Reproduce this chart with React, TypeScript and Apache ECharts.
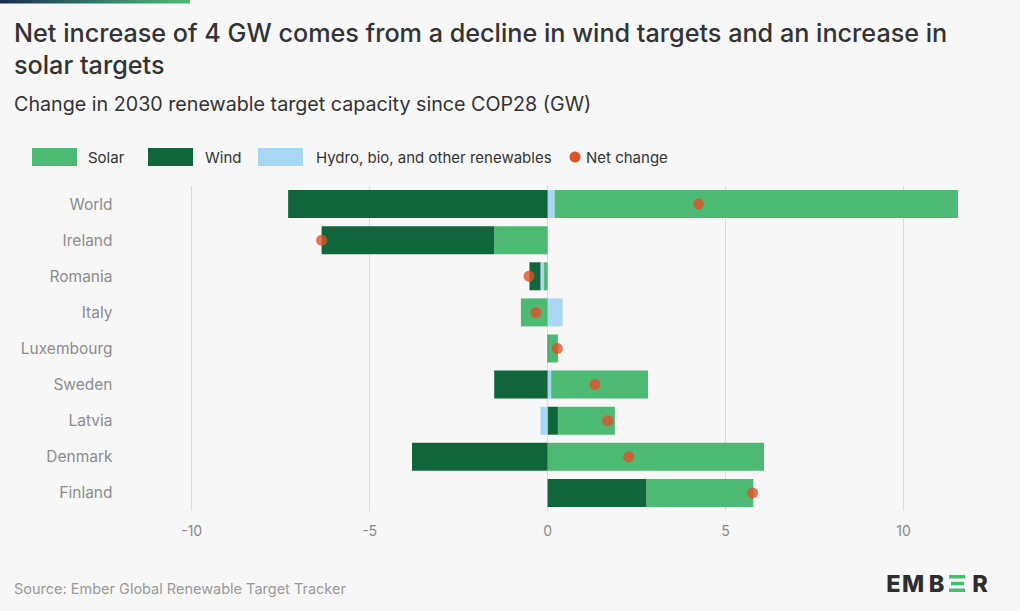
import React, { useEffect, useRef } from "react";
import * as echarts from "echarts";

const categories = ["World", "Ireland", "Romania", "Italy", "Luxembourg", "Sweden", "Latvia", "Denmark", "Finland"];
const solar = [11.33, -1.5, -0.1, -0.75, 0.26, 2.72, 1.6, 6.08, 3.0];
const wind = [-7.29, -4.85, -0.31, 0, 0.03, -1.5, 0.29, -3.81, 2.78];
const other = [0.2, 0, -0.1, 0.42, 0, 0.1, -0.2, 0, 0];
const netChange = [4.24, -6.35, -0.52, -0.33, 0.27, 1.33, 1.69, 2.28, 5.76];
const xTicks = [-10, -5, 0, 5, 10];

const C_SOLAR = "#4cba72";
const C_WIND = "#10663a";
const C_OTHER = "#a9d7f3";
const C_NET = "#e0512a";
const FONT = "Inter, 'Noto Sans', sans-serif";

const pos = (arr: number[]) => arr.map((v) => (v > 0 ? v : "-"));
const neg = (arr: number[]) => arr.map((v) => (v < 0 ? v : "-"));

export default function App() {
  const ref = useRef<HTMLDivElement>(null);
  useEffect(() => {
    document.body.style.margin = "0";
    document.body.style.overflow = "hidden";
    const chart = echarts.init(ref.current!, null, { renderer: "svg" });
    const barBase = { type: "bar", stack: "total", barWidth: 28, silent: true };
    const legendY = 157;
    const legendRect = (x: number, color: string) => ({
      type: "rect",
      shape: { x, y: legendY - 9, width: 45, height: 18 },
      style: { fill: color },
    });
    const legendText = (x: number, text: string) => ({
      type: "text",
      x,
      y: legendY,
      style: { text, font: `15px ${FONT}`, fill: "#333", verticalAlign: "middle" },
    });
    const logoLetter = (x: number, t: string) => ({
      type: "text",
      x,
      y: 583.5,
      style: { text: t, font: `800 23.5px ${FONT}`, fill: "#2e2e2e", align: "center", verticalAlign: "middle" },
    });
    chart.setOption({
      animation: false,
      backgroundColor: "#f7f7f7",
      grid: { left: 120.5, right: 45.3, top: 186, bottom: 100, outerBoundsMode: "none" },
      xAxis: {
        type: "value",
        min: -12,
        max: 12,
        axisLine: { show: false },
        axisTick: { show: false, customValues: xTicks },
        axisLabel: { customValues: xTicks, color: "#888", fontSize: 14, fontFamily: FONT, margin: 12 },
        splitLine: { show: true, lineStyle: { color: "#dcdcdc", width: 1 } },
      },
      yAxis: {
        type: "category",
        data: categories,
        inverse: true,
        axisLine: { show: false, onZero: false },
        axisTick: { show: false },
        axisLabel: { color: "#8c8c8c", fontSize: 15.5, fontFamily: FONT, margin: 8 },
      },
      series: [
        { ...barBase, name: "Wind", data: pos(wind), itemStyle: { color: C_WIND } },
        { ...barBase, name: "Hydro, bio, and other renewables", data: pos(other), itemStyle: { color: C_OTHER } },
        { ...barBase, name: "Solar", data: pos(solar), itemStyle: { color: C_SOLAR } },
        { ...barBase, name: "Solar", data: neg(solar), itemStyle: { color: C_SOLAR } },
        { ...barBase, name: "Hydro, bio, and other renewables", data: neg(other), itemStyle: { color: C_OTHER } },
        { ...barBase, name: "Wind", data: neg(wind), itemStyle: { color: C_WIND } },
        {
          type: "scatter",
          name: "Net change",
          data: netChange,
          symbol: "circle",
          symbolSize: 11,
          itemStyle: { color: C_NET },
          z: 10,
          silent: true,
        },
      ],
      graphic: [
        {
          type: "rect",
          shape: { x: 0, y: 0, width: 190, height: 3.5 },
          style: {
            fill: new echarts.graphic.LinearGradient(0, 0, 1, 0, [
              { offset: 0, color: "#1c2a52" },
              { offset: 0.5, color: "#2f7a66" },
              { offset: 1, color: "#4cbb74" },
            ]),
          },
        },
        {
          type: "text",
          x: 14,
          y: 33,
          style: { text: "Net increase of 4 GW comes from a decline in wind targets and an increase in", font: `500 25.2px ${FONT}`, fill: "#333", verticalAlign: "middle" },
        },
        {
          type: "text",
          x: 14,
          y: 65,
          style: { text: "solar targets", font: `500 25.2px ${FONT}`, fill: "#333", verticalAlign: "middle" },
        },
        {
          type: "text",
          x: 14,
          y: 104,
          style: { text: "Change in 2030 renewable target capacity since COP28 (GW)", font: `19.7px ${FONT}`, fill: "#333", verticalAlign: "middle" },
        },
        legendRect(32, C_SOLAR),
        legendText(88, "Solar"),
        legendRect(148, C_WIND),
        legendText(205, "Wind"),
        legendRect(258, C_OTHER),
        legendText(316, "Hydro, bio, and other renewables"),
        { type: "circle", shape: { cx: 575, cy: legendY, r: 5.5 }, style: { fill: C_NET } },
        legendText(586, "Net change"),
        {
          type: "text",
          x: 14,
          y: 588,
          style: { text: "Source: Ember Global Renewable Target Tracker", font: `14.5px ${FONT}`, fill: "#999", verticalAlign: "middle" },
        },
        logoLetter(893.5, "E"),
        logoLetter(913, "M"),
        logoLetter(936.5, "B"),
        { type: "rect", shape: { x: 949, y: 575, width: 16, height: 3.5 }, style: { fill: "#3cc26e" } },
        { type: "rect", shape: { x: 951, y: 581.8, width: 13, height: 3.5 }, style: { fill: "#3cc26e" } },
        { type: "rect", shape: { x: 949, y: 588.5, width: 16, height: 3.5 }, style: { fill: "#3cc26e" } },
        logoLetter(980, "R"),
      ],
    });
    return () => chart.dispose();
  }, []);
  return <div ref={ref} style={{ width: 1020, height: 611, position: "fixed", left: 0, top: 0 }} />;
}
